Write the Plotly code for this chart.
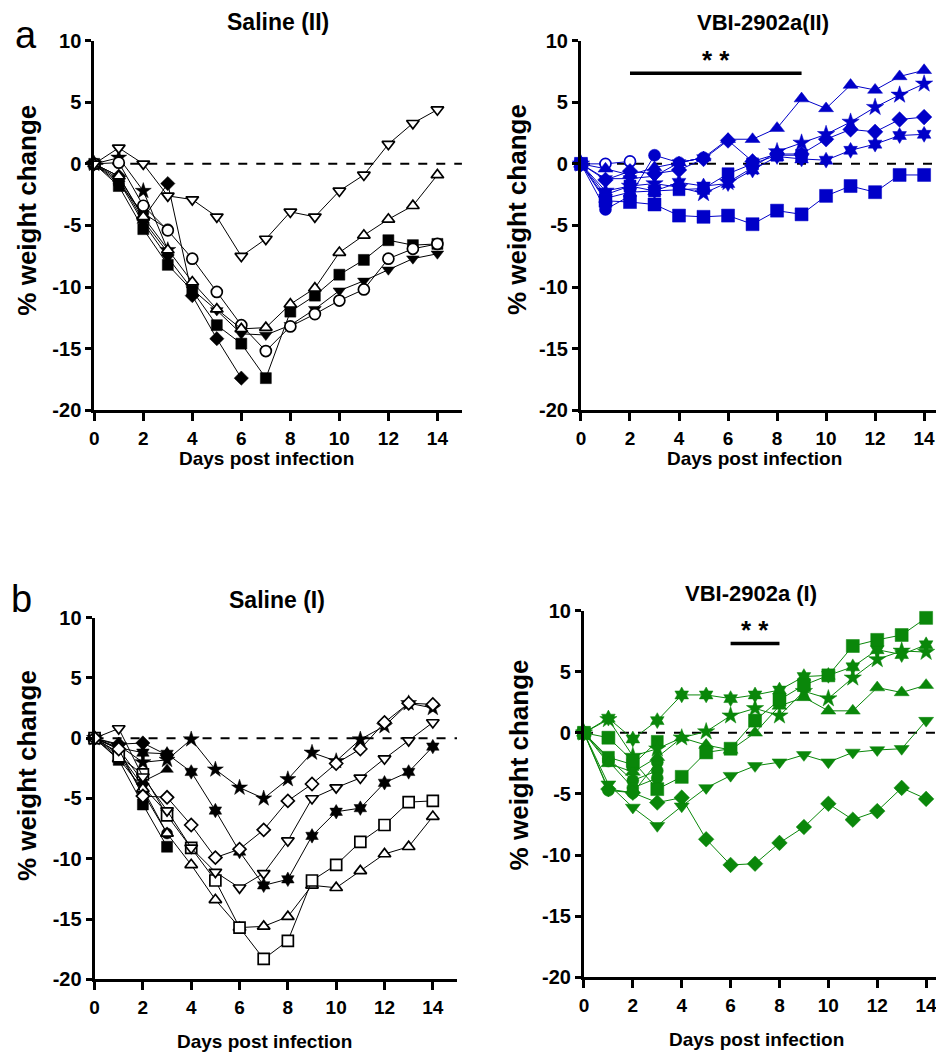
import plotly.graph_objects as go

W, H = 944, 1052
days = list(range(15))

# ---------------- Saline (II) ----------------
sal2_tri_down_open = [0, 1.3, 0, -2.6, -2.9, -4.3, -7.5, -6.1, -3.9, -4.3, -2.2, -0.9, 1.6, 3.3, 4.4]
sal2_tri_up_open = [0, -1.0, -4.3, -7.0, -9.6, -11.8, -13.4, -13.3, -11.4, -10.1, -7.2, -5.8, -4.5, -3.4, -0.9]
sal2_square = [0, -1.8, -5.3, -8.2, -10.3, -13.1, -14.6, -17.4, -12.0, -10.7, -9.0, -7.8, -6.2, -6.6, -6.5]
sal2_circle_open = [0, 0.1, -3.4, -5.4, -7.7, -10.4, -13.1, -15.2, -13.2, -12.2, -11.1, -10.2, -7.7, -6.9, -6.5]
sal2_tri_down = [0, -1.4, -4.8, -7.6, -10.2, -11.9, -13.8, -13.9, -13.1, -11.8, -10.3, -9.5, -8.6, -7.7, -7.3]
sal2_diamond = [0, -1.0, -4.4, -1.6, -10.7, -14.2, -17.4]
sal2_circle = [0, -1.6, -4.0, -5.3]
sal2_star = [0, 0.5, -2.2, -7.0]
sal2_tri_up = [0, -1.2, -4.6, -7.2]

# ---------------- VBI-2902a (II) ----------------
vbi2_tri_up = [0, -0.4, -0.9, -0.3, 0.1, 0.5, 2.0, 2.0, 2.9, 5.3, 4.5, 6.4, 6.0, 7.1, 7.6]
vbi2_star = [0, -2.2, -1.8, -1.6, -1.9, -2.4, -1.5, -0.3, 1.0, 1.7, 2.4, 3.4, 4.6, 5.6, 6.5]
vbi2_diamond = [0, -1.3, -0.6, -0.8, -0.5, 0.4, 1.9, 0.2, 0.8, 0.8, 2.0, 2.8, 2.6, 3.6, 3.8]
vbi2_asterisk = [0, -2.8, -2.3, -2.2, -1.5, -1.8, -1.6, -0.5, 0.6, 0.4, 0.3, 1.1, 1.6, 2.3, 2.4]
vbi2_square_low = [0, -3.0, -3.1, -3.3, -4.2, -4.3, -4.2, -4.9, -3.8, -4.1, -2.6, -1.8, -2.3, -0.9, -0.9]
vbi2_square_up = [0, -2.5, -1.8, -2.2, -2.1, -2.0, -0.8, 0.0, 0.7, 0.7]
vbi2_circle = [0, -3.7, -2.6, 0.7, 0.1, 0.5]
vbi2_circle_open = [0, 0.0, 0.2]
vbi2_tri_down = [0, -1.2, -1.2, -1.0, 0.1, 0.5]
sig_II_x = [2, 9]
sig_II_y = 7.35

# ---------------- Saline (I) ----------------
sal1_star = [0, -0.6, -2.0, -1.8, -0.1, -2.6, -4.1, -5.0, -3.4, -1.2, -1.9, -0.1, 1.0, 2.9, 2.5]
sal1_diamond_open = [0, -0.9, -4.8, -4.9, -7.2, -9.9, -9.2, -7.6, -5.2, -3.8, -2.1, -0.9, 1.3, 2.9, 2.8]
sal1_tri_down_open = [0, 0.8, -3.2, -6.0, -9.1, -11.1, -12.4, -11.2, -8.5, -5.0, -4.1, -3.3, -1.7, -0.2, 1.3]
sal1_asterisk = [0, -0.8, -1.2, -1.3, -2.8, -6.0, -9.4, -12.2, -11.7, -8.1, -6.1, -5.8, -3.7, -2.8, -0.7]
sal1_square_open = [0, -1.5, -3.0, -6.4, -9.1, -11.8, -15.7, -18.3, -16.8, -11.8, -10.5, -8.6, -7.2, -5.3, -5.2]
sal1_tri_up_open = [0, -1.7, -4.2, -7.9, -10.5, -13.4, -15.7, -15.6, -14.8, -12.2, -12.4, -11.0, -9.6, -9.0, -6.5]
sal1_square = [0, -1.8, -5.5, -9.0]
sal1_tri_up = [0, -0.9, -3.6, -2.6]
sal1_diamond = [0, -0.5, -0.4, -1.4]
sal1_circle = [0, -1.3, -4.5, -7.9]
sal1_tri_down = [0, -1.2, -4.0, -6.2]

# ---------------- VBI-2902a (I) ----------------
vbi1_asterisk = [0, 1.2, -0.5, 1.0, 3.1, 3.1, 2.8, 3.1, 3.5, 4.6, 4.7, 5.4, 6.8, 6.4, 7.2]
vbi1_star = [0, 1.1, -1.9, -1.3, -0.4, 0.1, 1.4, 2.0, 1.4, 3.4, 2.8, 4.5, 6.0, 6.7, 6.6]
vbi1_square = [0, -0.4, -2.3, -4.6, -3.6, -1.6, -1.3, 1.0, 2.7, 3.9, 4.7, 7.1, 7.6, 8.0, 9.4]
vbi1_tri_up = [0, -2.5, -3.2, -2.0, -0.4, -1.0, -1.4, 0.0, 2.2, 2.9, 1.8, 1.8, 3.7, 3.3, 3.9]
vbi1_tri_down = [0, -4.2, -6.1, -7.6, -6.0, -4.5, -3.5, -2.7, -2.4, -1.8, -2.4, -1.6, -1.4, -1.3, 1.0]
vbi1_diamond = [0, -4.6, -4.9, -5.7, -5.3, -8.7, -10.8, -10.7, -9.0, -7.7, -5.8, -7.1, -6.4, -4.5, -5.4]
vbi1_circle_a = [0, -4.7, -4.9, -2.4]
vbi1_circle_b = [0, -2.1, -3.9, -3.1]
vbi1_circle_c = [0, -2.3, -4.5, -3.7]
vbi1_square_b = [0, -2.0, -2.6, -0.7]
sig_I_x = [6, 8]
sig_I_y = 7.3

y_ticks = [-20, -15, -10, -5, 0, 5, 10]
y_tick_text = ["-20", "-15", "-10", "-5", "0", "5", "10"]
x_ticks = [0, 2, 4, 6, 8, 10, 12, 14]
x_tick_text = ["0", "2", "4", "6", "8", "10", "12", "14"]

BLACK = "#000000"
BLUE = "#0000C8"
GREEN = "#0A870A"
FONT = "Liberation Sans, Arial, sans-serif"

fig = go.Figure()


def add(vals, axis_idx, symbol, color, open_=False, size=10):
    xa = "x" if axis_idx == 1 else f"x{axis_idx}"
    ya = "y" if axis_idx == 1 else f"y{axis_idx}"
    if open_:
        marker = dict(symbol=symbol, size=size - 1, color="white",
                      line=dict(color=color, width=1.7))
    else:
        marker = dict(symbol=symbol, size=size, color=color,
                      line=dict(color=color, width=0.5))
    fig.add_trace(go.Scatter(
        x=days[:len(vals)], y=vals, xaxis=xa, yaxis=ya, mode="lines+markers",
        line=dict(color=color, width=1), marker=marker, showlegend=False,
        cliponaxis=False))


# panel 1: Saline (II)
add(sal2_star, 1, "star", BLACK, size=12)
add(sal2_tri_up, 1, "triangle-up", BLACK, size=11)
add(sal2_circle, 1, "circle", BLACK, size=11)
add(sal2_diamond, 1, "diamond", BLACK, size=11)
add(sal2_tri_down, 1, "triangle-down", BLACK, size=11)
add(sal2_square, 1, "square", BLACK, size=11)
add(sal2_circle_open, 1, "circle", BLACK, open_=True, size=12)
add(sal2_tri_up_open, 1, "triangle-up", BLACK, open_=True, size=12)
add(sal2_tri_down_open, 1, "triangle-down", BLACK, open_=True, size=12)

# panel 2: VBI-2902a (II)
add(vbi2_circle_open, 2, "circle", BLUE, open_=True, size=12)
add(vbi2_tri_down, 2, "triangle-down", BLUE, size=12)
add(vbi2_circle, 2, "circle", BLUE, size=12)
add(vbi2_square_up, 2, "square", BLUE, size=12)
add(vbi2_asterisk, 2, "hexagram", BLUE, size=12)
add(vbi2_diamond, 2, "diamond", BLUE, size=12)
add(vbi2_star, 2, "star", BLUE, size=13)
add(vbi2_square_low, 2, "square", BLUE, size=13)
add(vbi2_tri_up, 2, "triangle-up", BLUE, size=13)

# panel 3: Saline (I)
add(sal1_tri_down, 3, "triangle-down", BLACK, size=11)
add(sal1_circle, 3, "circle", BLACK, size=11)
add(sal1_diamond, 3, "diamond", BLACK, size=11)
add(sal1_tri_up, 3, "triangle-up", BLACK, size=11)
add(sal1_square, 3, "square", BLACK, size=11)
add(sal1_asterisk, 3, "hexagram", BLACK, size=11)
add(sal1_star, 3, "star", BLACK, size=12)
add(sal1_tri_up_open, 3, "triangle-up", BLACK, open_=True, size=12)
add(sal1_square_open, 3, "square", BLACK, open_=True, size=12)
add(sal1_tri_down_open, 3, "triangle-down", BLACK, open_=True, size=12)
add(sal1_diamond_open, 3, "diamond", BLACK, open_=True, size=11)

# panel 4: VBI-2902a (I)
add(vbi1_circle_a, 4, "circle", GREEN, size=12)
add(vbi1_circle_b, 4, "circle", GREEN, size=12)
add(vbi1_circle_c, 4, "circle", GREEN, size=12)
add(vbi1_square_b, 4, "square", GREEN, size=12)
add(vbi1_diamond, 4, "diamond", GREEN, size=12)
add(vbi1_tri_down, 4, "triangle-down", GREEN, size=13)
add(vbi1_tri_up, 4, "triangle-up", GREEN, size=13)
add(vbi1_star, 4, "star", GREEN, size=13)
add(vbi1_asterisk, 4, "hexagram", GREEN, size=12)
add(vbi1_square, 4, "square", GREEN, size=13)

# mapping from target (reference) pixels to figure fractions, calibrated on render
OFF_X = 10.0
OFF_Y, SCALE_Y = 16.7, 0.982


def px_x(t):
    return (t - OFF_X) / W


def px_y(t):
    return 1 - ((t - OFF_Y) / SCALE_Y) / H


# axis geometry in target pixels: x of day 0, px per day, range end; y of +10 and -20
panels = {
    1: dict(x0=91.7, ppd=24.64, xr=15.0, yt=38.5, yb=409),
    2: dict(x0=581, ppd=24.64, xr=15.2, yt=38.5, yb=409),
    3: dict(x0=92, ppd=24.29, xr=15.0, yt=617, yb=980),
    4: dict(x0=584, ppd=24.57, xr=15.1, yt=610, yb=978),
}

ytickfont = dict(family=FONT, size=20, color="black", weight="bold")
xtickfont = dict(family=FONT, size=19, color="black", weight="bold")
layout = dict(width=W, height=H, margin=dict(l=0, r=0, t=0, b=0),
              plot_bgcolor="white", paper_bgcolor="white", showlegend=False)
for i, p in panels.items():
    xk = "xaxis" if i == 1 else f"xaxis{i}"
    yk = "yaxis" if i == 1 else f"yaxis{i}"
    ya = "y" if i == 1 else f"y{i}"
    xa = "x" if i == 1 else f"x{i}"
    x1 = min(p["x0"] + p["xr"] * p["ppd"], W + OFF_X)
    xr = (x1 - p["x0"]) / p["ppd"]
    layout[xk] = dict(domain=[px_x(p["x0"]), px_x(x1)], range=[0, xr],
                      anchor=ya, tickvals=x_ticks, ticktext=x_tick_text,
                      showgrid=False, zeroline=False, showline=True,
                      linecolor="black", linewidth=3, ticks="outside",
                      ticklen=8, tickwidth=3, tickcolor="black",
                      tickfont=xtickfont, ticklabelstandoff=1,
                      ticklabeloverflow="allow")
    layout[yk] = dict(domain=[px_y(p["yb"]), px_y(p["yt"])], range=[-20, 10],
                      anchor=xa, tickvals=y_ticks, ticktext=y_tick_text,
                      showgrid=False, zeroline=False, showline=True,
                      linecolor="black", linewidth=3, ticks="outside",
                      ticklen=6, tickwidth=3, tickcolor="black",
                      tickfont=ytickfont, ticklabelstandoff=0)
fig.update_layout(**layout)

# dashed zero lines
for i in panels:
    xa = "x" if i == 1 else f"x{i}"
    ya = "y" if i == 1 else f"y{i}"
    fig.add_shape(type="line", xref=f"{xa} domain", yref=ya, x0=0, x1=1, y0=0, y1=0,
                  line=dict(color="black", width=2, dash="dash"), layer="below")

# significance bars
fig.add_shape(type="line", xref="x2", yref="y2", x0=sig_II_x[0], x1=sig_II_x[1],
              y0=sig_II_y, y1=sig_II_y, line=dict(color="black", width=3.5))
fig.add_annotation(xref="x2", yref="y2", x=(sig_II_x[0] + sig_II_x[1]) / 2, y=sig_II_y + 1.1,
                   text="* *", showarrow=False, yanchor="middle",
                   font=dict(family=FONT, size=26, color="black", weight="bold"))
fig.add_shape(type="line", xref="x4", yref="y4", x0=sig_I_x[0], x1=sig_I_x[1],
              y0=sig_I_y, y1=sig_I_y, line=dict(color="black", width=3.5))
fig.add_annotation(xref="x4", yref="y4", x=(sig_I_x[0] + sig_I_x[1]) / 2, y=sig_I_y + 1.1,
                   text="* *", showarrow=False, yanchor="middle",
                   font=dict(family=FONT, size=26, color="black", weight="bold"))


def text(px, py, s, size=17, bold=True, angle=0):
    fig.add_annotation(xref="paper", yref="paper", x=px_x(px), y=px_y(py), text=s,
                       showarrow=False, xanchor="center", yanchor="middle", textangle=angle,
                       font=dict(family=FONT, size=size, color="black",
                                 weight="bold" if bold else "normal"))


# titles
text(276, 20, "Saline (II)", size=23)
text(764, 20, "VBI-2902a(II)", size=22)
text(275, 599, "Saline (I)", size=23)
text(752, 593, "VBI-2902a (I)", size=22)
# panel letters
text(23, 33, "a", size=38, bold=False)
text(19, 598, "b", size=38, bold=False)
# axis titles
text(265, 458, "Days post infection", size=19)
text(755, 458, "Days post infection", size=19)
text(263, 1042, "Days post infection", size=19)
text(757, 1040, "Days post infection", size=19)
text(24, 208, "% weight change", size=26, angle=-90)
text(516, 208, "% weight change", size=26, angle=-90)
text(24, 775, "% weight change", size=26, angle=-90)
text(519, 765, "% weight change", size=26, angle=-90)

fig.write_html("out.html")
